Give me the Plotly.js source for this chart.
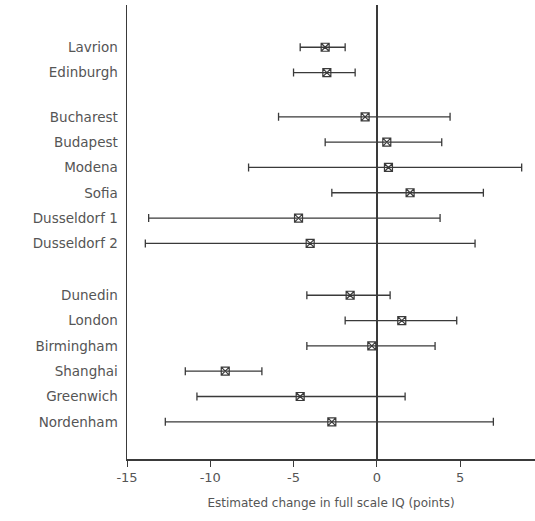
<!DOCTYPE html>
<html>
<head>
<meta charset="utf-8">
<script src="https://cdn.plot.ly/plotly-3.0.1.min.js"></script>
<style>html,body{margin:0;padding:0;background:#fff;}#chart{width:535px;height:521px;}</style>
</head>
<body>
<div id="chart"></div>
<script>
// Data
const studies = ["Lavrion", "Edinburgh", "Bucharest", "Budapest", "Modena", "Sofia", "Dusseldorf 1", "Dusseldorf 2",
                 "Dunedin", "London", "Birmingham", "Shanghai", "Greenwich", "Nordenham"];
const groups   = [0, 0, 1, 1, 1, 1, 1, 1, 2, 2, 2, 2, 2, 2];
const estimate = [-3.1, -3.0, -0.7, 0.6, 0.7, 2.0, -4.7, -4.0, -1.6, 1.5, -0.3, -9.1, -4.6, -2.7];
const lower    = [-4.6, -5.0, -5.9, -3.1, -7.7, -2.7, -13.7, -13.9, -4.2, -1.9, -4.2, -11.5, -10.8, -12.7];
const upper    = [-1.9, -1.3, 4.4, 3.9, 8.7, 6.4, 3.8, 5.9, 0.8, 4.8, 3.5, -6.9, 1.7, 7.0];
const xTicks   = [-15, -10, -5, 0, 5];

// Layout helpers (row position = index + group gap)
const groupGap = [0, 0.75, 1.8];
const yPos = studies.map((s, i) => i + groupGap[groups[i]]);

const ink = '#3a3a3a';
const trace = {
  type: 'scatter',
  mode: 'markers',
  x: estimate,
  y: yPos,
  marker: {symbol: 'square-x-open', size: 8, color: ink, line: {width: 1.2, color: ink}},
  error_x: {
    type: 'data',
    symmetric: false,
    array: upper.map((u, i) => u - estimate[i]),
    arrayminus: estimate.map((e, i) => e - lower[i]),
    color: ink,
    thickness: 1.3,
    width: 4
  },
  hoverinfo: 'skip',
  showlegend: false
};

const layout = {
  width: 535,
  height: 521,
  margin: {l: 127, r: 0, t: 5, b: 62},
  paper_bgcolor: '#fff',
  plot_bgcolor: '#fff',
  font: {family: '"DejaVu Sans", sans-serif', color: '#555', size: 12},
  xaxis: {
    range: [-15, 9.5],
    tickvals: xTicks,
    ticktext: xTicks.map(v => v < 0 ? '-' + Math.abs(v) : String(v)),
    showgrid: false,
    zeroline: true,
    zerolinecolor: ink,
    zerolinewidth: 1.5,
    showline: true,
    linecolor: ink,
    linewidth: 1.5,
    ticks: 'outside',
    ticklen: 6,
    tickcolor: ink,
    tickfont: {size: 13, color: '#555'},
    title: {text: 'Estimated change in full scale IQ (points)', font: {size: 12, color: '#555'}, standoff: 14}
  },
  yaxis: {
    range: [16.27, -1.67],
    tickvals: yPos,
    ticktext: studies,
    showgrid: false,
    zeroline: false,
    showline: true,
    linecolor: ink,
    linewidth: 1.5,
    ticks: '',
    ticklabelstandoff: 5,
    tickfont: {size: 13.5, color: '#555'}
  }
};

Plotly.newPlot('chart', [trace], layout, {staticPlot: true, displayModeBar: false});
</script>
</body>
</html>
